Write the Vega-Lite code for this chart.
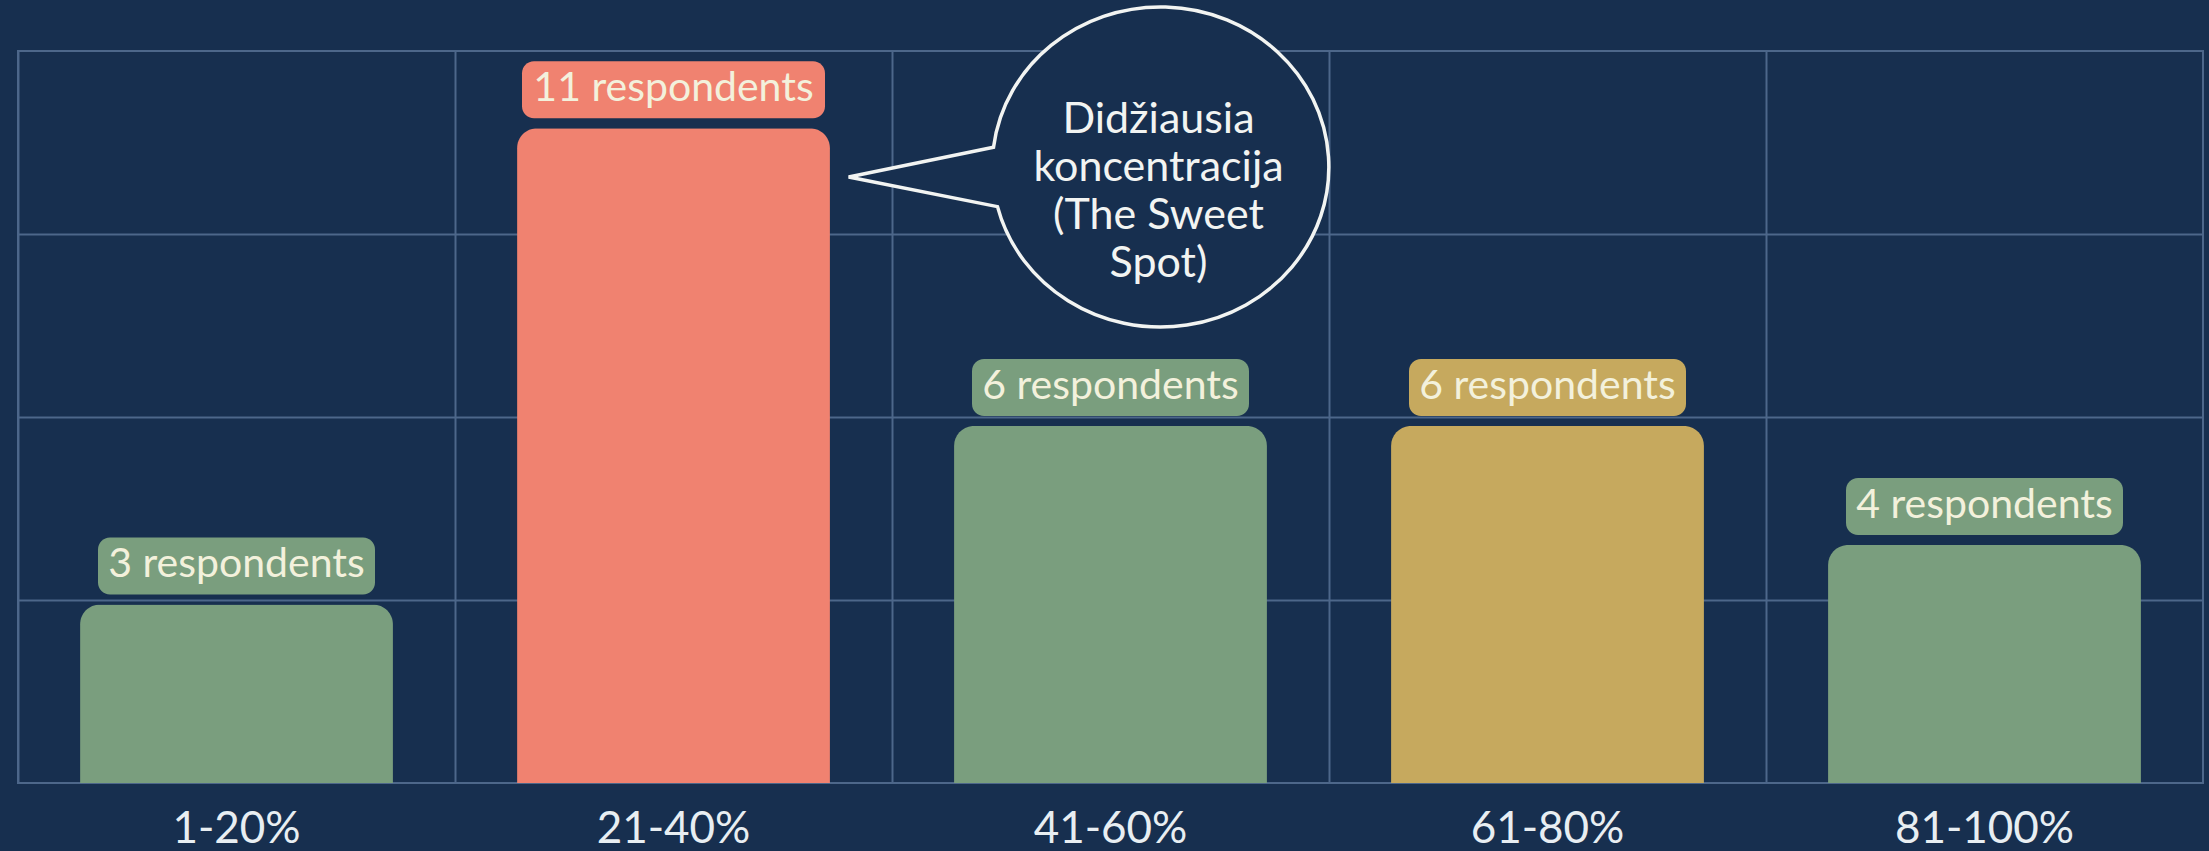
{
  "$schema": "https://vega.github.io/schema/vega-lite/v6.json",
  "width": 2185,
  "height": 732,
  "autosize": {"type": "none"},
  "padding": {"left": 18, "top": 51, "right": 6, "bottom": 68},
  "background": "#172f4f",
  "config": {
    "view": {"stroke": "#4d678a", "strokeWidth": 2},
    "font": "Lato"
  },
  "datasets": {
    "bars": [
      {"range": "1-20%", "count": 3, "label": "3 respondents"},
      {"range": "21-40%", "count": 11, "label": "11 respondents"},
      {"range": "41-60%", "count": 6, "label": "6 respondents"},
      {"range": "61-80%", "count": 6, "label": "6 respondents"},
      {"range": "81-100%", "count": 4, "label": "4 respondents"}
    ],
    "note": [
      {"range": "41-60%", "y": 10.35, "note": "Didžiausia\nkoncentracija\n(The Sweet\nSpot)"}
    ]
  },
  "encoding": {
    "x": {
      "field": "range",
      "type": "nominal",
      "sort": null,
      "scale": {"domain": ["1-20%", "21-40%", "41-60%", "61-80%", "81-100%"], "paddingInner": 0, "paddingOuter": 0},
      "axis": {
        "title": null,
        "labelAngle": 0,
        "labelFont": "Lato",
        "labelFontSize": 44,
        "labelColor": "#e8eef2",
        "labelPadding": 24,
        "ticks": false,
        "domain": false,
        "grid": true,
        "gridColor": "#4d678a",
        "gridWidth": 2,
        "bandPosition": 0
      }
    }
  },
  "layer": [
    {
      "data": {"name": "bars"},
      "mark": {"type": "bar", "width": {"band": 0.716}, "cornerRadiusTopLeft": 20, "cornerRadiusTopRight": 20},
      "encoding": {
        "y": {
          "field": "count",
          "type": "quantitative",
          "scale": {"domain": [0, 12.3], "nice": false, "zero": true},
          "axis": {
            "title": null,
            "labels": false,
            "ticks": false,
            "domain": false,
            "grid": true,
            "gridColor": "#4d678a",
            "gridWidth": 2,
            "values": [3.075, 6.15, 9.225]
          }
        },
        "color": {
          "field": "range",
          "type": "nominal",
          "scale": {"domain": ["1-20%", "21-40%", "41-60%", "61-80%", "81-100%"], "range": ["#7a9e7e", "#f08270", "#7a9e7e", "#c6a95e", "#7a9e7e"]},
          "legend": null
        }
      }
    },
    {
      "data": {"name": "bars"},
      "mark": {"type": "bar", "cornerRadius": 12, "yOffset": -10, "y2Offset": -67},
      "encoding": {
        "y": {"field": "count", "type": "quantitative"},
        "y2": {"field": "count"},
        "size": {"field": "count", "type": "quantitative", "scale": {"type": "threshold", "domain": [10], "range": [277, 303]}, "legend": null},
        "color": {"field": "range", "type": "nominal", "legend": null}
      }
    },
    {
      "data": {"name": "bars"},
      "mark": {"type": "text", "font": "Lato", "fontSize": 41, "fill": "#f3f1dc", "align": "center", "baseline": "middle", "dy": -39},
      "encoding": {
        "y": {"field": "count", "type": "quantitative"},
        "text": {"field": "label"}
      }
    },
    {
      "data": {"name": "note"},
      "mark": {
        "type": "point",
        "shape": "M -1.012,-0.12 A 1.02 0.97 0 1 1 -0.988,0.24 L -1.89,0.06 Z",
        "size": 108900,
        "filled": true,
        "fill": "#172f4f",
        "fillOpacity": 1,
        "stroke": "#f2f4f2",
        "strokeWidth": 3.5,
        "strokeOpacity": 1,
        "xOffset": 50
      },
      "encoding": {
        "y": {"field": "y", "type": "quantitative"}
      }
    },
    {
      "data": {"name": "note"},
      "mark": {
        "type": "text",
        "font": "Lato",
        "fontSize": 43,
        "lineHeight": 48,
        "lineBreak": "\n",
        "fill": "#f2f4f2",
        "align": "center",
        "baseline": "middle",
        "dx": 48,
        "dy": -47
      },
      "encoding": {
        "y": {"field": "y", "type": "quantitative"},
        "text": {"field": "note"}
      }
    }
  ]
}
